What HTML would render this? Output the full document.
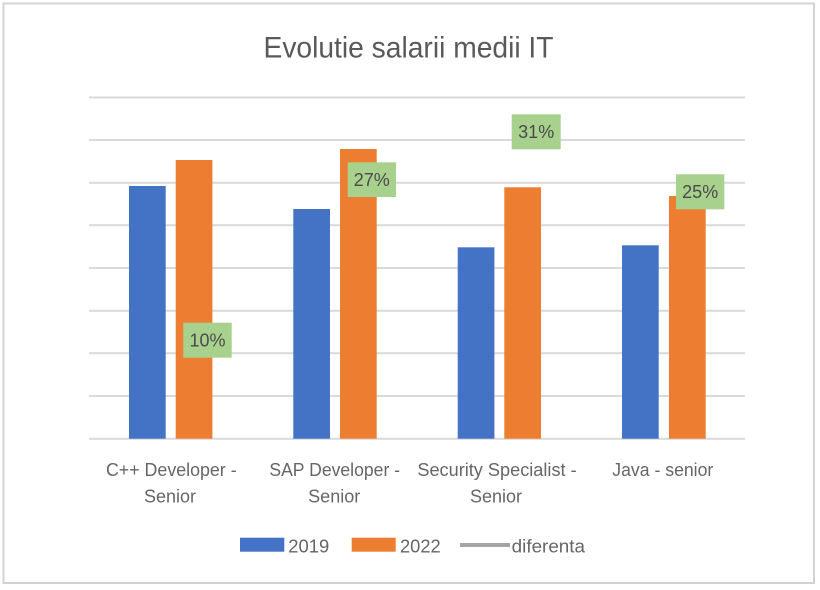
<!DOCTYPE html>
<html><head><meta charset="utf-8"><style>
html,body{margin:0;padding:0;background:#fff;}
svg{display:block;}
text{font-family:"Liberation Sans",sans-serif;}
</style></head><body>
<svg width="820" height="590" viewBox="0 0 820 590" xmlns="http://www.w3.org/2000/svg">
<rect x="0" y="0" width="820" height="590" fill="#fff"/>
<rect x="3.5" y="3.5" width="810.5" height="579.5" fill="#fff" stroke="#d3d3d3" stroke-width="2"/>
<text x="263.5" y="57.7" font-size="30" fill="#595959" textLength="290" lengthAdjust="spacingAndGlyphs">Evolutie salarii medii IT</text>
<g stroke="#d9d9d9" stroke-width="2">
<line x1="89" y1="97.5" x2="745" y2="97.5"/>
<line x1="89" y1="140" x2="745" y2="140"/>
<line x1="89" y1="182.7" x2="745" y2="182.7"/>
<line x1="89" y1="225.3" x2="745" y2="225.3"/>
<line x1="89" y1="268" x2="745" y2="268"/>
<line x1="89" y1="310.7" x2="745" y2="310.7"/>
<line x1="89" y1="353.3" x2="745" y2="353.3"/>
<line x1="89" y1="396" x2="745" y2="396"/>
<line x1="89" y1="438.7" x2="745" y2="438.7"/>
</g>
<g fill="#4472c4">
<rect x="129" y="186" width="36.7" height="252.7"/>
<rect x="293.3" y="209" width="36.7" height="229.7"/>
<rect x="457.7" y="247.3" width="36.7" height="191.4"/>
<rect x="622" y="245.3" width="36.7" height="193.4"/>
</g>
<g fill="#ed7d31">
<rect x="175.7" y="160" width="36.7" height="278.7"/>
<rect x="340" y="149" width="36.7" height="289.7"/>
<rect x="504.3" y="187.3" width="36.7" height="251.4"/>
<rect x="669" y="196" width="36.7" height="242.7"/>
</g>
<g fill="#a9d18e">
<rect x="183.3" y="322.7" width="48.4" height="35"/>
<rect x="347.7" y="162.3" width="48.3" height="34.7"/>
<rect x="511.7" y="114.3" width="49" height="35"/>
<rect x="676" y="174.3" width="48.3" height="35"/>
</g>
<g font-size="18" fill="#4a4a4a" text-anchor="middle">
<text x="207.5" y="346.5">10%</text>
<text x="371.8" y="186">27%</text>
<text x="536.2" y="138">31%</text>
<text x="700.2" y="198">25%</text>
</g>
<g font-size="18" fill="#666" text-anchor="middle">
<text x="171.3" y="476" textLength="130.7" lengthAdjust="spacingAndGlyphs">C++ Developer -</text>
<text x="170" y="502.7">Senior</text>
<text x="334.7" y="476" textLength="130.7" lengthAdjust="spacingAndGlyphs">SAP Developer -</text>
<text x="334.2" y="502.7">Senior</text>
<text x="497" y="476" textLength="159.3" lengthAdjust="spacingAndGlyphs">Security Specialist -</text>
<text x="496" y="502.7">Senior</text>
<text x="662.8" y="476" textLength="101" lengthAdjust="spacingAndGlyphs">Java - senior</text>
</g>
<rect x="240" y="537.7" width="44.3" height="14" fill="#4472c4"/>
<text x="288.3" y="552.3" font-size="18" fill="#666" textLength="41" lengthAdjust="spacingAndGlyphs">2019</text>
<rect x="351.7" y="537.7" width="44" height="14" fill="#ed7d31"/>
<text x="400" y="552.3" font-size="18" fill="#666" textLength="40.7" lengthAdjust="spacingAndGlyphs">2022</text>
<line x1="460" y1="545" x2="510" y2="545" stroke="#a5a5a5" stroke-width="4"/>
<text x="511.7" y="552.3" font-size="18" fill="#666" textLength="73.3" lengthAdjust="spacingAndGlyphs">diferenta</text>
</svg>
</body></html>
